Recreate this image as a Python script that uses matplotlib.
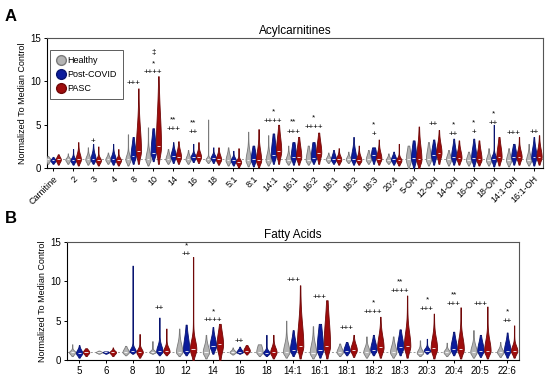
import numpy as np
import matplotlib.pyplot as plt
from matplotlib.lines import Line2D

plt.rcParams['font.family'] = ['Liberation Sans', 'DejaVu Sans']

# ---------------- Panel A: Acylcarnitines ----------------
acyl_labels = ["Carnitine", "2", "3", "4", "8", "10", "14", "16", "18", "5:1", "8:1",
               "14:1", "16:1", "16:2", "18:1", "18:2", "18:3", "20:4", "5-OH", "12-OH",
               "14-OH", "16-OH", "18-OH", "14:1-OH", "16:1-OH"]

# per violin: low end, median, upper body, top of tail
acyl_healthy_lo = [.5, .5, .4, .5, .3, .3, .5, .5, .6, .3, .2, .3, .4, .4, .6, .6, .5, .5, .0, .3, .3, .3, .3, .2, .3]
acyl_healthy_med = [1.0, 1.0, 1.0, 1.0, 1.0, 1.0, 1.0, 1.0, 1.0, .9, .9, .9, .9, .9, 1.0, 1.0, 1.0, .9, 1.0, 1.0, 1.0, .9, .9, .9, .9]
acyl_healthy_q3 = [1.2, 1.2, 1.4, 1.3, 1.5, 1.8, 1.5, 1.4, 1.2, 1.5, 1.8, 1.6, 1.4, 1.8, 1.3, 1.3, 1.5, 1.2, 2.0, 2.0, 1.5, 1.4, 1.4, 1.5, 1.5]
acyl_healthy_hi = [1.4, 1.7, 2.4, 1.8, 3.9, 4.7, 2.2, 2.1, 5.6, 2.4, 4.2, 3.8, 2.6, 2.6, 1.8, 1.9, 2.1, 1.7, 2.6, 3.0, 2.1, 1.9, 2.3, 2.3, 2.8]

acyl_post_lo = [.5, .4, .5, .4, .5, .8, .6, .7, .6, .3, .2, .5, .4, .5, .5, .4, .5, .4, .0, .4, .4, .2, .2, .4, .3]
acyl_post_med = [.9, .9, 1.0, 1.0, 1.4, 1.8, 1.4, 1.3, 1.2, .9, 1.0, 1.5, 1.3, 1.2, 1.0, 1.1, 1.5, 1.0, 1.2, 1.5, 1.3, 1.2, 1.1, 1.3, 1.3]
acyl_post_q3 = [1.1, 1.2, 1.6, 1.5, 2.6, 3.5, 2.0, 1.6, 1.5, 1.2, 2.0, 3.0, 2.5, 2.5, 1.5, 2.0, 2.3, 1.4, 2.5, 2.5, 2.3, 2.3, 1.5, 2.2, 2.3]
acyl_post_hi = [1.3, 2.2, 2.8, 2.8, 3.6, 4.6, 3.0, 2.8, 2.4, 2.0, 2.6, 4.0, 3.0, 3.0, 2.1, 3.6, 2.4, 1.9, 3.2, 3.3, 3.4, 3.4, 5.0, 2.8, 3.6]

acyl_pasc_lo = [.4, .3, .3, .3, .5, .5, .5, .6, .4, .1, .1, .5, .4, .5, .4, .4, .4, .3, .0, .5, .4, .3, .3, .4, .4]
acyl_pasc_med = [1.0, 1.0, .9, .9, 2.0, 2.5, 1.3, 1.3, 1.0, .7, .9, 2.0, 1.3, 1.8, 1.0, .9, 1.1, .9, 1.0, 1.8, 1.2, 1.0, 1.3, 1.3, 1.3]
acyl_pasc_q3 = [1.3, 1.6, 1.2, 1.2, 4.5, 6.0, 2.0, 1.8, 1.5, 1.0, 2.0, 3.5, 2.5, 3.0, 1.4, 1.4, 1.8, 1.2, 2.5, 2.8, 2.0, 2.0, 2.5, 2.0, 2.2]
acyl_pasc_hi = [1.6, 3.0, 2.5, 2.2, 9.2, 10.6, 3.1, 3.0, 2.4, 2.3, 4.5, 5.0, 3.6, 4.1, 2.3, 2.6, 3.3, 2.8, 4.8, 4.4, 3.2, 3.2, 3.6, 3.6, 3.8]

# significance marks: (category, text, height)
acyl_marks = [("3", "+", 3.1), ("8", "+++", 9.8), ("10", "\u2021", 13.3), ("10", "*", 12.0),
              ("10", "++++", 11.0), ("14", "**", 5.6), ("14", "+++", 4.5), ("16", "**", 5.2),
              ("16", "++", 4.1), ("14:1", "*", 6.5), ("14:1", "++++", 5.4), ("16:1", "**", 5.3),
              ("16:1", "+++", 4.1), ("16:2", "*", 5.8), ("16:2", "++++", 4.7), ("18:3", "*", 5.0),
              ("18:3", "+", 3.9), ("12-OH", "++", 5.0), ("14-OH", "*", 5.0), ("14-OH", "++", 3.9),
              ("16-OH", "*", 5.2), ("16-OH", "+", 4.1), ("18-OH", "*", 6.3), ("18-OH", "++", 5.2),
              ("14:1-OH", "+++", 4.0), ("16:1-OH", "++", 4.1)]

# ---------------- Panel B: Fatty acids ----------------
fa_labels = ["5", "6", "8", "10", "12", "14", "16", "18", "14:1", "16:1", "18:1", "18:2",
             "18:3", "20:3", "20:4", "20:5", "22:6"]

fa_healthy_lo = [.5, .8, .6, .8, .5, .2, .7, .5, .3, .2, .5, .3, .3, .5, .5, .3, .4]
fa_healthy_med = [1.0, 1.0, 1.0, 1.0, 1.0, 1.0, 1.0, 1.0, 1.0, .9, 1.0, 1.0, 1.0, .9, 1.0, 1.0, 1.0]
fa_healthy_q3 = [1.2, 1.1, 1.4, 1.2, 2.0, 1.8, 1.2, 1.8, 2.0, 2.0, 1.5, 1.6, 1.8, 1.3, 1.3, 1.8, 1.4]
fa_healthy_hi = [2.0, 1.2, 1.8, 2.4, 4.0, 3.2, 1.6, 2.0, 5.0, 4.3, 2.1, 3.0, 3.0, 2.5, 2.2, 3.8, 2.3]

fa_post_lo = [.3, .8, .8, .6, .6, .8, .8, .5, .5, .3, .6, .6, .6, .8, .6, .4, .3]
fa_post_med = [.9, 1.0, 1.1, 1.1, 1.2, 1.8, 1.0, .9, 1.3, 1.3, 1.2, 1.3, 1.6, 1.2, 1.4, 1.2, 1.2]
fa_post_q3 = [1.3, 1.1, 1.5, 1.8, 2.8, 2.8, 1.3, 1.2, 2.5, 3.5, 1.8, 2.2, 2.8, 1.5, 2.5, 2.2, 2.2]
fa_post_hi = [1.9, 1.1, 12.0, 5.4, 4.5, 4.2, 1.7, 3.2, 3.8, 4.6, 2.3, 3.2, 3.9, 2.7, 3.6, 3.2, 3.5]

fa_pasc_lo = [.5, .5, .3, .6, .0, .0, .7, .2, .2, .2, .4, .3, .3, .2, .2, .2, .3]
fa_pasc_med = [1.0, 1.0, 1.0, 1.1, 1.4, 2.0, 1.2, 1.0, 1.8, 1.8, 1.3, 1.6, 1.8, 1.5, 1.4, 1.2, 1.2]
fa_pasc_q3 = [1.3, 1.2, 1.4, 1.6, 2.5, 3.5, 1.6, 1.6, 4.5, 5.0, 2.0, 3.0, 3.5, 2.8, 2.8, 2.5, 1.8]
fa_pasc_hi = [1.5, 1.6, 3.3, 4.0, 13.1, 4.6, 1.9, 3.2, 9.5, 7.6, 3.2, 5.5, 8.2, 5.9, 6.7, 6.8, 4.4]

fa_marks = [("10", "++", 6.5), ("12", "*", 14.5), ("12", "++", 13.4), ("14", "*", 6.1),
            ("14", "++++", 5.0), ("16", "++", 2.4), ("14:1", "+++", 10.1), ("16:1", "+++", 7.9),
            ("18:1", "+++", 4.0), ("18:2", "*", 7.3), ("18:2", "++++", 6.1), ("18:3", "**", 9.9),
            ("18:3", "++++", 8.7), ("20:3", "*", 7.7), ("20:3", "+++", 6.4), ("20:4", "**", 8.3),
            ("20:4", "+++", 7.1), ("20:5", "+++", 7.1), ("22:6", "*", 6.1), ("22:6", "++", 4.9)]

group_names = ["Healthy", "Post-COVID", "PASC"]
face_colors = ["#B4B4B4", "#0B1C9C", "#9E0C0C"]
edge_colors = ["#7A7A7A", "#081470", "#700808"]


def make_stats(lo, med, q3, hi):
    # violin outline: bulge around the median, thin tail out to the extremes
    stats = []
    for a, m, q, b in zip(lo, med, q3, hi):
        ys = np.linspace(a, b, 300)
        s_dn = max(m - a, 0.1) / 2.0
        s_up = max(q - m, 0.1)
        dens = np.where(ys < m,
                        np.exp(-0.5 * ((ys - m) / s_dn) ** 2),
                        np.exp(-0.5 * ((ys - m) / s_up) ** 2)) + 0.07
        stats.append(dict(coords=ys, vals=dens, mean=m, median=m, min=a, max=b, quantiles=[]))
    return stats


def draw_panel(ax, labels, series, marks, offset, width, title):
    x = np.arange(len(labels))
    for k, (lo, med, q3, hi) in enumerate(series):
        parts = ax.violin(make_stats(lo, med, q3, hi), positions=x + (k - 1) * offset,
                          widths=width, showmeans=False, showextrema=False, showmedians=True)
        for pc in parts['bodies']:
            pc.set_facecolor(face_colors[k])
            pc.set_edgecolor(edge_colors[k])
            pc.set_linewidth(0.6)
            pc.set_alpha(1)
            pc.set_zorder(3)
        parts['cmedians'].set_color('white')
        parts['cmedians'].set_linewidth(0.6)
        parts['cmedians'].set_zorder(4)
    ax.axhline(1, color='#999999', ls=(0, (2, 2)), lw=0.7, zorder=1)
    for cat, txt, yv in marks:
        ax.text(labels.index(cat), yv, txt, ha='center', va='center', fontsize=5.8)
    ax.set_xlim(-0.45, len(labels) - 0.55)
    ax.set_ylim(0, 15)
    ax.set_yticks([0, 5, 10, 15])
    ax.set_xticks(x)
    ax.set_title(title, fontsize=8.5, pad=3)
    ax.set_ylabel("Normalized To Median Control", fontsize=6.5, labelpad=2)
    ax.tick_params(axis='both', labelsize=7, length=2.5, width=0.7, pad=2)
    for sp in ax.spines.values():
        sp.set_linewidth(0.8)
    for sp in ['top', 'right']:
        ax.spines[sp].set_color('#555555')


fig = plt.figure(figsize=(5.5, 3.77), dpi=100)

axA = fig.add_axes([0.0855, 0.554, 0.9015, 0.345])
draw_panel(axA, acyl_labels,
           [(acyl_healthy_lo, acyl_healthy_med, acyl_healthy_q3, acyl_healthy_hi),
            (acyl_post_lo, acyl_post_med, acyl_post_q3, acyl_post_hi),
            (acyl_pasc_lo, acyl_pasc_med, acyl_pasc_q3, acyl_pasc_hi)],
           acyl_marks, 0.26, 0.26, "Acylcarnitines")
axA.set_xticklabels(acyl_labels, rotation=45, ha='right', rotation_mode='anchor', fontsize=6.5)
axA.set_xlim(-0.3, 24.45)

handles = [Line2D([], [], marker='o', ls='', markersize=7, markerfacecolor=face_colors[k],
                  markeredgecolor=edge_colors[k]) for k in range(3)]
leg = axA.legend(handles, group_names, loc='upper left', fontsize=6.5, frameon=True,
                 fancybox=False, edgecolor='#333333', handletextpad=0.1, borderpad=0.7,
                 labelspacing=0.55, handlelength=1.1, borderaxespad=0,
                 bbox_to_anchor=(0.006, 0.91))
leg.get_frame().set_linewidth(0.7)

axB = fig.add_axes([0.122, 0.045, 0.822, 0.313])
draw_panel(axB, fa_labels,
           [(fa_healthy_lo, fa_healthy_med, fa_healthy_q3, fa_healthy_hi),
            (fa_post_lo, fa_post_med, fa_post_q3, fa_post_hi),
            (fa_pasc_lo, fa_pasc_med, fa_pasc_q3, fa_pasc_hi)],
           fa_marks, 0.26, 0.24, "Fatty Acids")
axB.set_xticklabels(fa_labels, fontsize=7)

fig.text(0.008, 0.975, "A", fontsize=12, fontweight='bold', va='top')
fig.text(0.008, 0.44, "B", fontsize=12, fontweight='bold', va='top')

fig.savefig("out.png", dpi=100)
